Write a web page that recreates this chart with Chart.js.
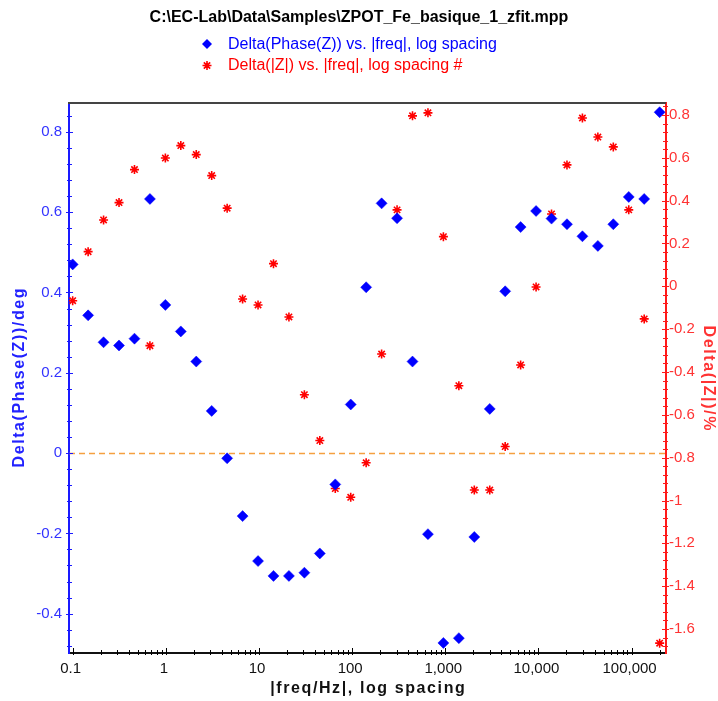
<!DOCTYPE html>
<html>
<head>
<meta charset="utf-8">
<script src="https://cdn.jsdelivr.net/npm/chart.js@4.4.1/dist/chart.umd.min.js"></script>
<style>
  html, body { margin: 0; padding: 0; background: #fff; }
  #wrap { width: 718px; height: 701px; position: relative; }
</style>
</head>
<body>
<div id="wrap"><canvas id="zChart"></canvas></div>
<script>
// frequencies, Hz (6 points per decade, 0.1 Hz .. 200 kHz)
const freq = [0.1, 0.1465, 0.2146, 0.3144, 0.4606, 0.6748, 0.9883, 1.448, 2.121, 3.107,
  4.552, 6.668, 9.768, 14.31, 20.96, 30.71, 44.99, 65.91, 96.55, 141.4,
  207.2, 303.5, 444.6, 651.3, 954.1, 1398, 2048, 3000, 4394, 6437,
  9430, 13814, 20238, 29645, 43431, 63622, 93196, 136520, 200000];
// Delta(Phase(Z)), deg
const dPhase = [0.470, 0.343, 0.276, 0.268, 0.285, 0.633, 0.369, 0.303, 0.228, 0.105,
  -0.013, -0.157, -0.269, -0.306, -0.306, -0.298, -0.250, -0.078, 0.121, 0.413,
  0.622, 0.585, 0.228, -0.202, -0.473, -0.461, -0.209, 0.110, 0.403, 0.563,
  0.603, 0.584, 0.570, 0.540, 0.516, 0.570, 0.638, 0.633, 0.849];
// Delta(|Z|), %
const dZ = [-0.067, 0.162, 0.310, 0.391, 0.545, -0.277, 0.599, 0.657, 0.615, 0.517,
  0.365, -0.059, -0.087, 0.106, -0.143, -0.506, -0.720, -0.944, -0.985, -0.824,
  -0.316, 0.357, 0.796, 0.810, 0.232, -0.464, -0.951, -0.951, -0.748, -0.367,
  -0.003, 0.338, 0.567, 0.786, 0.697, 0.651, 0.357, -0.152, -1.666];

const xTicks = [0.1, 1, 10, 100, 1000, 10000, 100000];
const yTicks = [-0.4, -0.2, 0, 0.2, 0.4, 0.6, 0.8];
const y2Ticks = [-1.6, -1.4, -1.2, -1, -0.8, -0.6, -0.4, -0.2, 0, 0.2, 0.4, 0.6, 0.8];

const fileTitle = 'C:\\EC-Lab\\Data\\Samples\\ZPOT_Fe_basique_1_zfit.mpp';
const phaseLabel = 'Delta(Phase(Z)) vs. |freq|, log spacing';
const modLabel = 'Delta(|Z|) vs. |freq|, log spacing #';
const xTitle = '|freq/Hz|, log spacing';
const yTitle = 'Delta(Phase(Z))/deg';
const y2Title = 'Delta(|Z|)/%';

const BLUE = '#0000ff';
const RED = '#ff0000';
const FONT = '"Liberation Sans", Arial, sans-serif';
Chart.defaults.font.family = FONT;

function diamond(ctx, x, y, r) {
  ctx.beginPath();
  ctx.moveTo(x, y - r); ctx.lineTo(x + r, y); ctx.lineTo(x, y + r); ctx.lineTo(x - r, y);
  ctx.closePath();
  ctx.fill();
}
function star(ctx, x, y, r) {
  const d = r * Math.SQRT1_2;
  ctx.beginPath();
  ctx.moveTo(x - r, y); ctx.lineTo(x + r, y);
  ctx.moveTo(x, y - r); ctx.lineTo(x, y + r);
  ctx.moveTo(x - d, y - d); ctx.lineTo(x + d, y + d);
  ctx.moveTo(x - d, y + d); ctx.lineTo(x + d, y - d);
  ctx.stroke();
}
function spacedText(ctx, text, x, y, rot) {
  ctx.save();
  ctx.translate(x, y);
  ctx.rotate(rot);
  ctx.letterSpacing = '1.6px';
  ctx.fillText(text, 0.8, 0);
  ctx.restore();
}

const decor = {
  id: 'decor',
  beforeDatasetsDraw(chart) {
    const {ctx, chartArea: a, scales: {y}} = chart;
    const py = Math.round(y.getPixelForValue(0)) + 0.5;
    ctx.save();
    ctx.strokeStyle = '#f5a040';
    ctx.lineWidth = 1.5;
    ctx.setLineDash([6, 4]);
    ctx.beginPath(); ctx.moveTo(a.left, py); ctx.lineTo(a.right, py); ctx.stroke();
    ctx.restore();
  },
  afterDraw(chart) {
    const {ctx, chartArea: a, scales: {x, y, y2}} = chart;
    ctx.save();
    // top frame
    ctx.strokeStyle = '#444';
    ctx.lineWidth = 2;
    ctx.beginPath(); ctx.moveTo(a.left - 1, a.top); ctx.lineTo(a.right, a.top); ctx.stroke();

    // x ticks (log, major + minor)
    ctx.lineWidth = 1;
    ctx.strokeStyle = '#000';
    for (let d = -2; d <= 6; d++) {
      for (let m = 1; m < 10; m++) {
        const v = m * Math.pow(10, d);
        if (v < x.min || v > x.max) continue;
        const px = Math.round(x.getPixelForValue(v)) + 0.5;
        const up = m === 1 ? 5 : 3;
        ctx.beginPath(); ctx.moveTo(px, a.bottom - up); ctx.lineTo(px, a.bottom + 2); ctx.stroke();
      }
    }
    // left ticks
    ctx.strokeStyle = '#1a1aff';
    for (let k = -12; k <= 21; k++) {
      const py = Math.round(y.getPixelForValue(k * 0.04)) + 0.5;
      if (py < a.top || py > a.bottom) continue;
      const major = k % 5 === 0;
      ctx.beginPath(); ctx.moveTo(a.left - (major ? 3 : 2), py); ctx.lineTo(a.left + (major ? 4 : 3), py); ctx.stroke();
    }
    // right ticks
    ctx.strokeStyle = '#ff1a1a';
    for (let k = -43; k <= 21; k++) {
      const py = Math.round(y2.getPixelForValue(k * 0.04)) + 0.5;
      if (py < a.top || py > a.bottom) continue;
      const major = k % 5 === 0;
      ctx.beginPath(); ctx.moveTo(a.right - (major ? 4 : 3), py); ctx.lineTo(a.right + (major ? 3 : 2), py); ctx.stroke();
    }

    // axis titles
    ctx.font = 'bold 16px ' + FONT;
    ctx.textAlign = 'center';
    ctx.textBaseline = 'middle';
    const midY = (a.top + a.bottom) / 2;
    ctx.fillStyle = '#111';
    spacedText(ctx, xTitle, (a.left + a.right) / 2, 689, 0);
    ctx.fillStyle = '#2222ff';
    spacedText(ctx, yTitle, 20, midY, -Math.PI / 2);
    ctx.fillStyle = '#ff3333';
    spacedText(ctx, y2Title, 708, midY, Math.PI / 2);

    // title
    ctx.fillStyle = '#000';
    ctx.font = 'bold 16px ' + FONT;
    ctx.fillText(fileTitle, 359, 18);

    // legend
    ctx.font = '16px ' + FONT;
    ctx.textAlign = 'left';
    ctx.fillStyle = BLUE;
    diamond(ctx, 207, 44, 5);
    ctx.fillText(phaseLabel, 228, 45);
    ctx.strokeStyle = RED;
    ctx.lineWidth = 1.6;
    star(ctx, 207, 65.5, 4.5);
    ctx.fillStyle = RED;
    ctx.beginPath(); ctx.arc(207, 65.5, 2, 0, Math.PI * 2); ctx.fill();
    ctx.fillText(modLabel, 228, 66);
    ctx.restore();
  }
};

new Chart(document.getElementById('zChart'), {
  type: 'scatter',
  data: {
    datasets: [{
      label: phaseLabel,
      data: freq.map((f, i) => ({x: f, y: dPhase[i]})),
      yAxisID: 'y',
      pointStyle: 'rectRot',
      pointRadius: 5.5,
      pointHoverRadius: 5.5,
      pointBackgroundColor: BLUE,
      pointBorderColor: BLUE,
      pointBorderWidth: 0.5
    }, {
      label: modLabel,
      data: freq.map((f, i) => ({x: f, y: dZ[i]})),
      yAxisID: 'y2',
      pointStyle: 'star',
      pointRadius: 4.5,
      pointHoverRadius: 4.5,
      pointBackgroundColor: RED,
      pointBorderColor: RED,
      pointBorderWidth: 1.6
    }]
  },
  options: {
    responsive: true,
    maintainAspectRatio: false,
    animation: false,
    layout: { padding: { top: 103, left: 0, right: 0, bottom: 0 } },
    plugins: {
      legend: { display: false },
      tooltip: { enabled: false }
    },
    scales: {
      x: {
        type: 'logarithmic',
        position: 'bottom',
        min: 0.0913,
        max: 234000,
        afterBuildTicks: s => { s.ticks = xTicks.map(v => ({value: v})); },
        afterFit: s => { s.height = 48; },
        grid: { display: false, drawTicks: true, tickLength: 4 },
        border: { display: true, color: '#111', width: 2 },
        ticks: {
          autoSkip: false, maxRotation: 0, padding: 3, color: '#111',
          labelOffset: -2, font: { size: 15 },
          callback: v => Number(v).toLocaleString('en-US')
        },
        title: { display: false }
      },
      y: {
        position: 'left',
        min: -0.498,
        max: 0.872,
        afterBuildTicks: s => { s.ticks = yTicks.map(v => ({value: v})); },
        afterFit: s => { s.width = 69; },
        grid: { display: false, drawTicks: true, tickLength: 4 },
        border: { display: true, color: '#1a1aff', width: 2 },
        ticks: { color: '#3333ff', padding: 3, font: { size: 15 }, callback: v => String(v) },
        title: { display: false }
      },
      y2: {
        position: 'right',
        min: -1.712,
        max: 0.856,
        afterBuildTicks: s => { s.ticks = y2Ticks.map(v => ({value: v})); },
        afterFit: s => { s.width = 52; },
        grid: { display: false, drawTicks: true, tickLength: 2 },
        border: { display: true, color: '#ff1a1a', width: 2 },
        ticks: { color: '#ff3333', padding: 1, font: { size: 15 }, callback: v => String(v) },
        title: { display: false }
      }
    }
  },
  plugins: [decor]
});
</script>
</body>
</html>
